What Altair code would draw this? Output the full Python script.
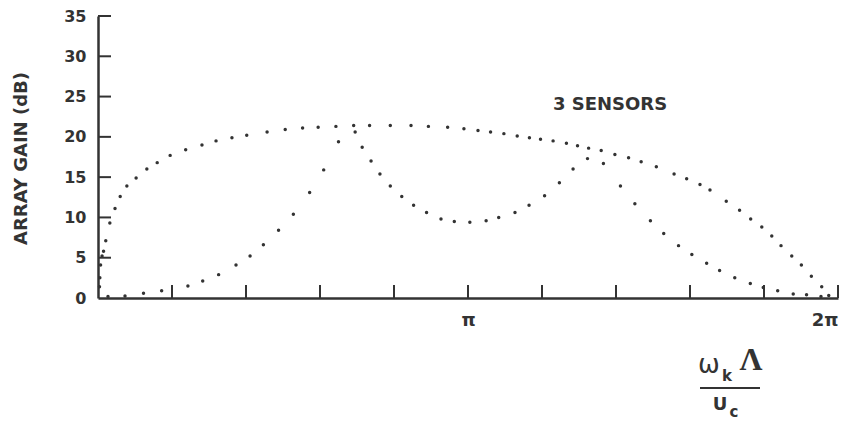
import altair as alt
import pandas as pd

# x in units of pi (0..2), y = array gain in dB
c1_x = [0.004,0.005,0.007,0.011,0.015,0.021,0.032,0.046,0.060,0.078,0.103,0.132,0.160,0.195,0.237,
        0.281,0.319,0.362,0.402,0.457,0.506,0.553,0.595,0.643,0.691,0.734,0.790,0.846,0.893,0.945,
        0.989,1.027,1.061,1.097,1.133,1.166,1.196,1.230,1.266,1.296,1.326,1.360,1.397,1.434,1.468,
        1.509,1.557,1.591,1.627,1.654,1.698,1.734,1.764,1.794,1.821,1.846,1.875,1.901,1.928,1.956,1.975]
c1_y = [1.4,2.5,4.1,5.2,5.8,7.1,9.3,11.1,12.6,13.9,14.9,16.0,16.8,17.7,18.4,
        19.0,19.5,19.9,20.2,20.6,20.9,21.1,21.2,21.3,21.4,21.4,21.4,21.4,21.3,21.2,
        21.0,20.8,20.6,20.4,20.1,19.9,19.7,19.5,19.2,18.9,18.6,18.3,17.8,17.4,16.9,
        16.3,15.4,14.8,14.1,13.4,12.0,10.9,9.8,8.8,7.7,6.5,5.2,4.1,2.7,1.4,0.3]

c2_x = [0.027,0.073,0.123,0.172,0.243,0.283,0.326,0.373,0.411,0.447,0.488,0.528,0.572,0.610,0.650,
        0.695,0.714,0.738,0.762,0.790,0.821,0.853,0.888,0.927,0.963,1.005,1.049,1.083,1.127,1.165,
        1.207,1.247,1.284,1.323,1.366,1.412,1.451,1.493,1.529,1.569,1.605,1.645,1.680,1.721,1.763,
        1.798,1.837,1.879,1.915,1.954]
c2_y = [0.2,0.25,0.6,0.9,1.5,2.1,2.9,4.1,5.2,6.6,8.4,10.4,13.1,15.9,19.4,
        20.6,18.7,17.0,15.4,13.9,12.6,11.5,10.6,9.8,9.5,9.4,9.6,10.0,10.6,11.5,
        12.7,14.3,16.0,17.3,16.7,13.9,11.7,9.6,8.0,6.5,5.4,4.3,3.4,2.5,1.8,
        1.3,0.9,0.5,0.4,0.2]

y_ticks = [5, 10, 15, 20, 25, 30, 35]
x_ticks = [0.2, 0.4, 0.6, 0.8, 1.0, 1.2, 1.4, 1.6, 1.8, 2.0]
x_labels = [1, 2]

annot_text = ["3 SENSORS"]
annot_x = [1.384]
annot_y = [24.0]

INK = "#333333"
FONT = "DejaVu Sans"

df = pd.DataFrame({
    "x": c1_x + c2_x,
    "y": c1_y + c2_y,
    "curve": ["broad"] * len(c1_x) + ["split"] * len(c2_x),
})

xs = alt.Scale(domain=[0, 2], nice=False, zero=True)
ys = alt.Scale(domain=[0, 35], nice=False, zero=True)

x_axis = alt.Axis(
    values=x_labels, labelExpr="datum.value == 1 ? 'π' : '2π'",
    ticks=False, tickSize=0, grid=False, title=None,
    domainColor=INK, domainWidth=2.5, labelFont=FONT, labelFontWeight="bold",
    labelFontSize=18, labelColor=INK, labelPadding=13)
y_axis = alt.Axis(
    values=[0, 5, 10, 15, 20, 25, 30, 35], ticks=False, tickSize=0, grid=False,
    domainColor=INK, domainWidth=2.5, labelFont=FONT, labelFontWeight="bold",
    labelFontSize=16, labelColor=INK, labelPadding=12,
    title="ARRAY GAIN (dB)", titleFont=FONT, titleFontWeight="bold",
    titleFontSize=18, titleColor=INK, titleAngle=270, titleX=-77, titleY=142,
    titleAlign="center", titleBaseline="middle")

X = lambda: alt.X("x:Q", scale=xs, axis=x_axis)
Y = lambda: alt.Y("y:Q", scale=ys, axis=y_axis)

points = alt.Chart(df).mark_circle(size=12, color=INK, opacity=1).encode(x=X(), y=Y())

ytick_layer = alt.Chart(pd.DataFrame({"y": y_ticks})).mark_rule(
    color=INK, strokeWidth=2).encode(y=Y(), x=alt.value(0), x2=alt.value(13))

xtick_layer = alt.Chart(pd.DataFrame({"x": x_ticks})).mark_rule(
    color=INK, strokeWidth=2).encode(x=X(), y=alt.value(282), y2=alt.value(269))

annot = alt.Chart(pd.DataFrame({"t": annot_text, "x": annot_x, "y": annot_y})).mark_text(
    font=FONT, fontWeight="bold", fontSize=18, color=INK, align="center",
    baseline="middle").encode(x=X(), y=Y(), text="t:N")

one = alt.Data(values=[{"a": 1}])

def txt(s, x, y, size, font=FONT, weight="bold", style="normal"):
    return alt.Chart(one).mark_text(
        text=s, font=font, fontWeight=weight, fontStyle=style, fontSize=size,
        color=INK, align="center", baseline="middle").encode(
        x=alt.value(x), y=alt.value(y))

omega = txt("ω", 611, 349, 26, weight="normal")
ksub = txt("k", 629, 360, 15)
lam = txt("Λ", 653, 344, 32, font="Liberation Serif")
frac = alt.Chart(one).mark_rule(color=INK, strokeWidth=2).encode(
    x=alt.value(602), x2=alt.value(662), y=alt.value(372))
uc = txt("U", 622, 389, 18)
csub = txt("c", 636, 396, 15)

chart = alt.layer(points, ytick_layer, xtick_layer, annot,
                  omega, ksub, lam, frac, uc, csub).properties(
    width=740, height=282,
    autosize=alt.AutoSizeParams(type="none"),
    padding={"left": 98, "top": 16, "right": 19, "bottom": 130},
    background="white",
).configure_view(stroke=None)

chart.save("out.html", embed_options={"renderer": "svg", "actions": False})
